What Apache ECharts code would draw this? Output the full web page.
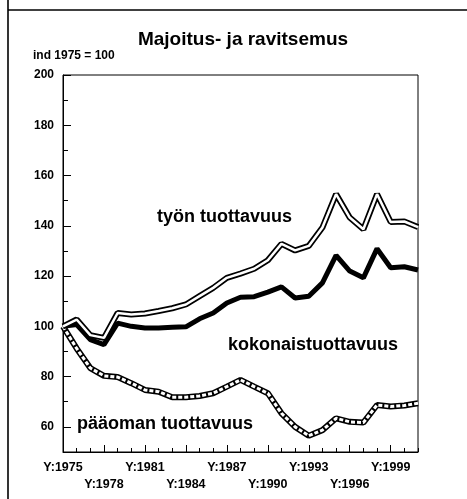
<!DOCTYPE html>
<html lang="fi">
<head>
    <meta charset="UTF-8">
    <title>Majoitus- ja ravitsemus</title>
    <script src="https://cdn.jsdelivr.net/npm/echarts@6.0.0/dist/echarts.min.js"></script>
    <style>
        html, body { margin: 0; padding: 0; background: #fff; }
        #main { width: 467px; height: 499px; }
    </style>
</head>
<body>
<div id="main"></div>
<script>
    // vuodet 1975-2001
    var years = [];
    for (var y = 1975; y <= 2001; y++) years.push('Y:' + y);

    var tyon = [100, 102.7, 96.5, 95.4, 105.3, 104.7, 105.1, 106.1, 107.2, 108.7, 112, 115.3, 119.3, 121,
        122.9, 126.3, 132.8, 130.2, 132, 139.3, 152.6, 143.3, 138.6, 152.6, 141.5, 141.7, 139.5];
    var kokonais = [100, 100.7, 94.7, 92.7, 101.3, 100, 99.3, 99.3, 99.6, 99.8, 103, 105.3, 109.3, 111.6,
        111.8, 113.6, 115.7, 111.3, 112, 117.3, 128.2, 122, 119.3, 130.9, 123.3, 123.7, 122.4];
    var paaoma = [100, 91.2, 83.4, 80.3, 79.8, 77.4, 74.7, 74, 71.8, 71.8, 72.3, 73.4, 76, 78.7,
        76, 73.4, 65.4, 60, 56.5, 58.7, 63.4, 62, 61.7, 68.7, 68.1, 68.5, 69.4];

    var yLabels = [60, 80, 100, 120, 140, 160, 180, 200];
    var yMinor = [70, 90, 110, 130, 150, 170, 190];

    var chart = echarts.init(document.getElementById('main'));
    var bold = { fontFamily: 'Liberation Sans, Arial, sans-serif', fontWeight: 'bold', color: '#000' };

    var option = {
        animation: false,
        backgroundColor: '#fff',
        title: {
            text: 'Majoitus- ja ravitsemus',
            left: 238, top: 25, textAlign: 'center',
            textStyle: Object.assign({ fontSize: 19 }, bold)
        },
        grid: { left: 63, top: 75, right: 49, bottom: 47, show: true, borderColor: '#000', borderWidth: 1, backgroundColor: 'transparent' },
        xAxis: [{
            type: 'category', data: years, boundaryGap: false,
            axisLine: { lineStyle: { color: '#000', width: 1 } },
            axisTick: { inside: true, length: 4, interval: 0, lineStyle: { color: '#000' } },
            axisLabel: Object.assign({ fontSize: 12.5, margin: 9, interval: function (i) { return i % 6 === 0; } }, bold),
            splitLine: { show: false }
        }, {
            type: 'category', data: years, boundaryGap: false, position: 'bottom',
            axisLine: { show: false },
            axisTick: { inside: true, length: 7, interval: function (i) { return i % 3 === 0; }, lineStyle: { color: '#000' } },
            axisLabel: Object.assign({ fontSize: 12.5, margin: 26, interval: function (i) { return i % 6 === 3; } }, bold),
            splitLine: { show: false }
        }],
        yAxis: [{
            type: 'value', min: 50, max: 200, interval: 10,
            axisLine: { show: true, lineStyle: { color: '#000', width: 1 } },
            axisTick: { show: true, inside: true, length: 8, customValues: yLabels, lineStyle: { color: '#000' } },
            axisLabel: Object.assign({ fontSize: 12, margin: 9, customValues: yLabels }, bold),
            splitLine: { show: false }
        }, {
            type: 'value', min: 50, max: 200, interval: 10, position: 'left',
            axisLine: { show: false },
            axisTick: { show: true, inside: true, length: 5, customValues: yMinor, lineStyle: { color: '#000' } },
            axisLabel: { show: false },
            splitLine: { show: false }
        }],
        series: [
            { type: 'line', data: paaoma, symbol: 'none', lineStyle: { color: '#000', width: 6 }, z: 2 },
            { type: 'line', data: paaoma, symbol: 'none', lineStyle: { color: '#fff', width: 3, type: [4, 2] }, z: 3 },
            { type: 'line', data: kokonais, symbol: 'none', lineStyle: { color: '#000', width: 5 }, z: 4 },
            { type: 'line', data: tyon, symbol: 'none', lineStyle: { color: '#000', width: 6 }, z: 5 },
            { type: 'line', data: tyon, symbol: 'none', lineStyle: { color: '#fff', width: 2.5 }, z: 6 }
        ],
        graphic: [
            { type: 'line', shape: { x1: 8, y1: 0, x2: 8, y2: 499 }, style: { stroke: '#000', lineWidth: 1.6 } },
            { type: 'line', shape: { x1: 8, y1: 10, x2: 467, y2: 10 }, style: { stroke: '#000', lineWidth: 1.6 } },
            { type: 'text', left: 33, top: 50, style: { text: 'ind 1975 = 100', font: 'bold 12px Liberation Sans, Arial, sans-serif', fill: '#000' } },
            { type: 'text', left: 157, top: 208, style: { text: 'työn tuottavuus', font: 'bold 18px Liberation Sans, Arial, sans-serif', fill: '#000' } },
            { type: 'text', left: 228, top: 336, style: { text: 'kokonaistuottavuus', font: 'bold 18px Liberation Sans, Arial, sans-serif', fill: '#000' } },
            { type: 'text', left: 77, top: 415, style: { text: 'pääoman tuottavuus', font: 'bold 18px Liberation Sans, Arial, sans-serif', fill: '#000' } }
        ]
    };
    chart.setOption(option);
</script>
</body>
</html>
